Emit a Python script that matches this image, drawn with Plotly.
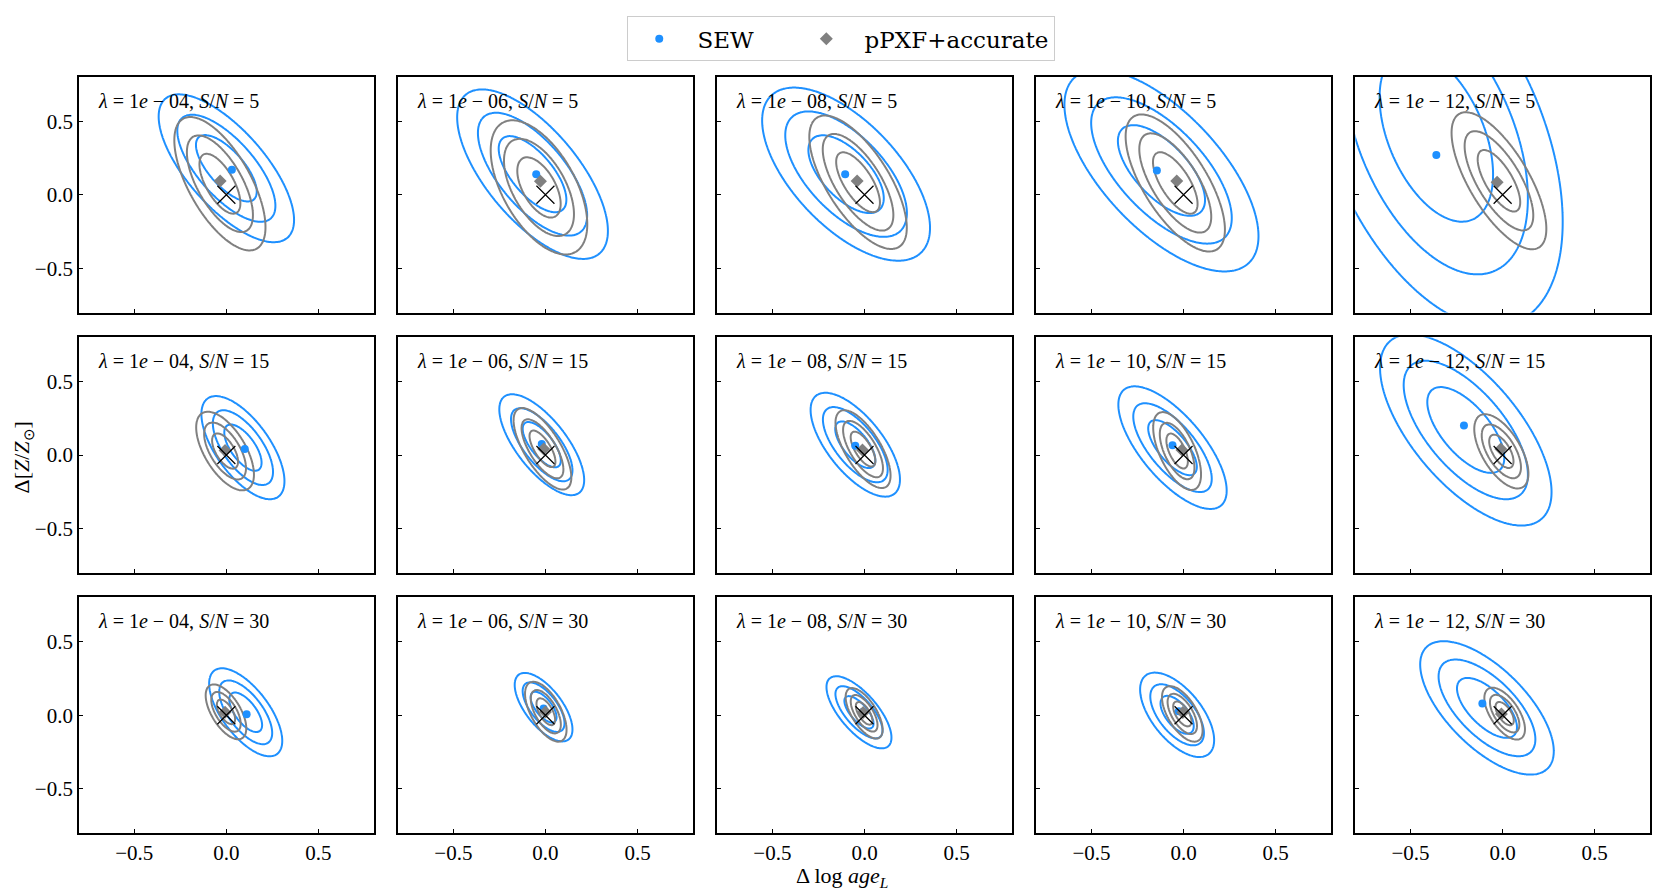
import numpy as np
import plotly.graph_objects as go
from plotly.subplots import make_subplots

# columns: regularisation lambda, rows: S/N
lambda_exp = ["04", "06", "08", "10", "12"]
sn_values = [5, 15, 30]

# point estimates (median offsets) per panel, rows = S/N, cols = lambda
sew_x = [[0.03, -0.05, -0.105, -0.145, -0.36],
         [0.10, -0.02, -0.05, -0.06, -0.21],
         [0.11, -0.01, -0.01, -0.026, -0.11]]
sew_y = [[0.17, 0.14, 0.14, 0.165, 0.27],
         [0.04, 0.075, 0.063, 0.067, 0.20],
         [0.007, 0.045, 0.022, 0.027, 0.08]]
ppxf_x = [[-0.034, -0.027, -0.04, -0.037, -0.03],
          [-0.007, -0.009, -0.011, -0.009, -0.01],
          [-0.007, 0.0, -0.007, -0.004, -0.007]]
ppxf_y = [[0.094, 0.092, 0.094, 0.094, 0.085],
          [0.031, 0.04, 0.034, 0.034, 0.04],
          [0.02, 0.022, 0.018, 0.018, 0.009]]

# spread of the recovered offsets (gaussian summary: centre, sigmas, correlation)
sew_cx = [[0.0, -0.07, -0.10, -0.12, -0.36],
          [0.09, -0.02, -0.05, -0.06, -0.20],
          [0.105, -0.01, -0.03, -0.035, -0.085]]
sew_cy = [[0.18, 0.14, 0.14, 0.165, 0.40],
          [0.05, 0.07, 0.07, 0.05, 0.17],
          [0.02, 0.055, 0.02, 0.003, 0.05]]
sew_sx = [[0.15, 0.167, 0.186, 0.215, 0.28],
          [0.092, 0.094, 0.099, 0.12, 0.19],
          [0.081, 0.064, 0.072, 0.082, 0.148]]
sew_sy = [[0.205, 0.235, 0.24, 0.28, 0.53],
          [0.143, 0.14, 0.144, 0.17, 0.265],
          [0.122, 0.095, 0.10, 0.117, 0.185]]
sew_rho = [[-0.7, -0.67, -0.62, -0.65, -0.45],
           [-0.65, -0.7, -0.67, -0.7, -0.65],
           [-0.65, -0.65, -0.7, -0.6, -0.65]]

ppxf_cx = [[-0.035, -0.035, -0.035, -0.045, -0.02],
           [-0.007, -0.016, -0.008, -0.035, -0.007],
           [-0.002, 0.002, -0.002, -0.007, 0.011]]
ppxf_cy = [[0.075, 0.05, 0.085, 0.08, 0.095],
           [0.027, 0.042, 0.04, 0.027, 0.025],
           [0.023, 0.024, 0.013, 0.009, 0.011]]
ppxf_sx = [[0.101, 0.107, 0.108, 0.11, 0.105],
           [0.064, 0.064, 0.061, 0.053, 0.06],
           [0.045, 0.046, 0.041, 0.045, 0.045]]
ppxf_sy = [[0.185, 0.186, 0.185, 0.19, 0.19],
           [0.109, 0.113, 0.108, 0.108, 0.103],
           [0.076, 0.083, 0.07, 0.077, 0.072]]
ppxf_rho = [[-0.65, -0.55, -0.68, -0.68, -0.7],
            [-0.6, -0.7, -0.68, -0.6, -0.6],
            [-0.6, -0.6, -0.65, -0.6, -0.6]]

BLUE = "#1E90FF"
GRAY = "#808080"
FONT = "Liberation Serif"
NB = "\u00a0"

gx = np.linspace(-0.9, 0.9, 241)
gy = np.linspace(-0.9, 0.9, 241)
GX, GY = np.meshgrid(gx, gy)


def mahalanobis(cx, cy, sx, sy, rho):
    dx = (GX - cx) / sx
    dy = (GY - cy) / sy
    return np.sqrt((dx ** 2 - 2 * rho * dx * dy + dy ** 2) / (1 - rho ** 2))


def contour_trace(z, color):
    return go.Contour(
        x=gx, y=gy, z=z,
        contours=dict(start=1.1, end=2.45, size=0.675, coloring="lines", showlabels=False),
        colorscale=[[0, color], [1, color]],
        line=dict(width=2),
        showscale=False, hoverinfo="skip", showlegend=False,
    )


fig = make_subplots(rows=3, cols=5, horizontal_spacing=0.0155, vertical_spacing=0.0327)

for r in range(3):
    for c in range(5):
        first = (r == 0 and c == 0)
        fig.add_trace(contour_trace(
            mahalanobis(sew_cx[r][c], sew_cy[r][c], sew_sx[r][c], sew_sy[r][c], sew_rho[r][c]), BLUE),
            row=r + 1, col=c + 1)
        fig.add_trace(contour_trace(
            mahalanobis(ppxf_cx[r][c], ppxf_cy[r][c], ppxf_sx[r][c], ppxf_sy[r][c], ppxf_rho[r][c]), GRAY),
            row=r + 1, col=c + 1)
        fig.add_trace(go.Scatter(
            x=[sew_x[r][c]], y=[sew_y[r][c]], mode="markers", name=NB + "SEW" + NB * 5,
            marker=dict(color=BLUE, size=8, symbol="circle"),
            showlegend=first, legendrank=1), row=r + 1, col=c + 1)
        fig.add_trace(go.Scatter(
            x=[ppxf_x[r][c]], y=[ppxf_y[r][c]], mode="markers", name=NB + "pPXF+accurate",
            marker=dict(color=GRAY, size=10, symbol="diamond"),
            showlegend=first, legendrank=2), row=r + 1, col=c + 1)
        fig.add_trace(go.Scatter(
            x=[0], y=[0], mode="markers", showlegend=False,
            marker=dict(symbol="x-thin", size=18, line=dict(color="black", width=1.2))),
            row=r + 1, col=c + 1)

        label = ("<i>λ</i> = 1<i>e</i> − %s, <i>S</i>/<i>N</i> = %d"
                 % (lambda_exp[c], sn_values[r]))
        idx = r * 5 + c + 1
        suffix = "" if idx == 1 else str(idx)
        fig.add_annotation(
            text=label, xref="x%s domain" % suffix, yref="y%s domain" % suffix,
            x=0.058, y=0.9, xanchor="left", yanchor="middle", showarrow=False,
            font=dict(family=FONT, size=20, color="black"))

axis_common = dict(
    range=[-0.8, 0.8], showgrid=False, zeroline=False,
    showline=True, mirror=True, linecolor="black", linewidth=1.7,
    ticks="inside", ticklen=4, tickwidth=1.2, tickcolor="black",
    tickvals=[-0.5, 0, 0.5], ticktext=["−0.5", "0.0", "0.5"],
    tickfont=dict(family=FONT, size=21, color="black"),
)
for r in range(3):
    for c in range(5):
        fig.update_xaxes(axis_common, showticklabels=(r == 2), row=r + 1, col=c + 1)
        fig.update_yaxes(axis_common, showticklabels=(c == 0), row=r + 1, col=c + 1)

fig.add_annotation(
    text="Δ log <i>age</i><sub><i>L</i></sub>", xref="paper", yref="paper",
    x=0.4856, y=-0.058, xanchor="center", yanchor="middle", showarrow=False,
    font=dict(family=FONT, size=22, color="black"))
fig.add_annotation(
    text="Δ[<i>Z</i>/<i>Z</i><sub>⊙</sub>]", xref="paper", yref="paper",
    x=-0.0355, y=0.497, xanchor="center", yanchor="middle", showarrow=False,
    textangle=-90, font=dict(family=FONT, size=22, color="black"))

# the page body adds an 8px offset, so the figure is 8px smaller and shifted
fig.update_layout(
    width=1652, height=885,
    margin=dict(l=71.3, r=8, t=61.6, b=59.7),
    paper_bgcolor="white", plot_bgcolor="white",
    font=dict(family=FONT, color="black"),
    legend=dict(
        orientation="h", x=0.4852, xanchor="center", y=1.0803, yanchor="top",
        bordercolor="#cccccc", borderwidth=1, bgcolor="white",
        font=dict(family="DejaVu Serif", size=23, color="black"),
        itemwidth=52,
    ),
)

fig.write_html("out.html")
